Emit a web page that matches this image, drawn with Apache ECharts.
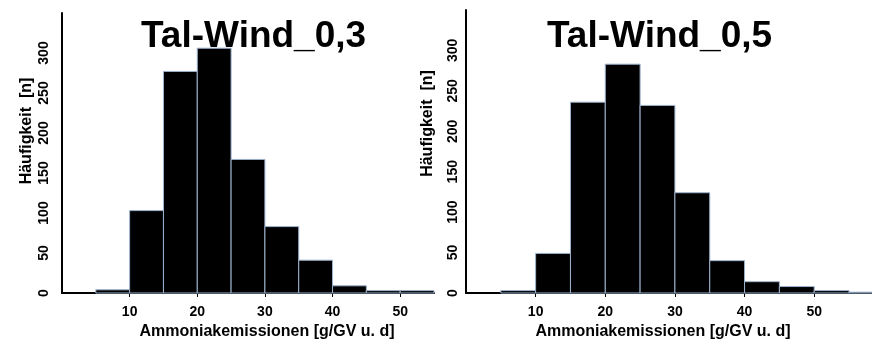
<!DOCTYPE html>
<html>
<head>
<meta charset="utf-8">
<script src="https://cdn.jsdelivr.net/npm/echarts@6/dist/echarts.min.js"></script>
<style>
  html, body { margin: 0; padding: 0; background: #fff; }
  #chart { width: 872px; height: 345px; }
</style>
</head>
<body>
<div id="chart"></div>
<script>
// bin starts (width 5) and counts
var binWidth = 5;
var bins03 = [5, 10, 15, 20, 25, 30, 35, 40, 45, 50];
var counts03 = [4, 103, 277, 306, 167, 83, 41, 9, 3, 3];
var bins05 = [5, 10, 15, 20, 25, 30, 35, 40, 45, 50, 55];
var counts05 = [3, 49, 236, 283, 232, 124, 40, 14, 8, 3, 1];
var xTicks = [10, 20, 30, 40, 50];
var yTicks = [0, 50, 100, 150, 200, 250, 300];
var titles = ['Tal-Wind_0,3', 'Tal-Wind_0,5'];
var xName = 'Ammoniakemissionen [g/GV u. d]';
var yName = 'Häufigkeit  [n]';

var font = 'Liberation Sans, Arial, sans-serif';

function histData(bins, counts) {
    return bins.map(function (b, i) { return [b, b + binWidth, counts[i]]; });
}

function renderBin(params, api) {
    var p0 = api.coord([api.value(0), api.value(2)]);
    var p1 = api.coord([api.value(1), 0]);
    return {
        type: 'rect',
        shape: { x: p0[0], y: p0[1], width: p1[0] - p0[0], height: p1[1] - p0[1] },
        style: { fill: '#000', stroke: '#9db3cf', lineWidth: 1 }
    };
}

function xAxisOpt(idx, max, pad) {
    return {
        type: 'value',
        gridIndex: idx,
        min: 0,
        max: max,
        interval: 10,
        name: xName,
        nameLocation: 'middle',
        nameGap: 31,
        nameTextStyle: { fontFamily: font, fontWeight: 'bold', fontSize: 16, color: '#000', padding: pad },
        axisLine: { lineStyle: { color: '#000', width: 2 } },
        axisTick: { length: 4, customValues: xTicks, lineStyle: { color: '#000', width: 1 } },
        splitLine: { show: false },
        axisLabel: {
            margin: 12,
            customValues: xTicks,
            fontFamily: font, fontWeight: 'bold', fontSize: 14, color: '#000'
        }
    };
}

function yAxisOpt(idx, labelMargin, gap, shift) {
    return {
        type: 'value',
        gridIndex: idx,
        min: 0,
        max: 350,
        interval: 50,
        name: yName,
        nameLocation: 'middle',
        nameGap: gap,
        nameRotate: 90,
        nameTextStyle: { fontFamily: font, fontWeight: 'bold', fontSize: 16, color: '#000', padding: [0, 0, 0, shift] },
        axisLine: { show: true, lineStyle: { color: '#000', width: 2 } },
        axisTick: { show: false },
        splitLine: { show: false },
        axisLabel: {
            rotate: 90,
            margin: labelMargin,
            customValues: yTicks,
            fontFamily: font, fontWeight: 'bold', fontSize: 14, color: '#000'
        }
    };
}

var chart = echarts.init(document.getElementById('chart'));
var option = {
    animation: false,
    title: [
        { text: titles[0], left: 141, top: 18, padding: 0,
          textStyle: { fontFamily: font, fontWeight: 'bold', fontSize: 37, color: '#000' } },
        { text: titles[1], left: 547, top: 18, padding: 0,
          textStyle: { fontFamily: font, fontWeight: 'bold', fontSize: 37, color: '#000' } }
    ],
    grid: [
        { left: 62, top: 13, width: 372, height: 280 },
        { left: 466, top: 10, width: 406, height: 283 }
    ],
    xAxis: [xAxisOpt(0, 55, [0, 0, 0, 38]), xAxisOpt(1, 58.3, [0, 12, 0, 0])],
    yAxis: [yAxisOpt(0, 11, 27, 44), yAxisOpt(1, 6, 30, 56)],
    series: [
        { type: 'custom', xAxisIndex: 0, yAxisIndex: 0, renderItem: renderBin,
          encode: { x: [0, 1], y: 2 }, data: histData(bins03, counts03) },
        { type: 'custom', xAxisIndex: 1, yAxisIndex: 1, renderItem: renderBin,
          encode: { x: [0, 1], y: 2 }, data: histData(bins05, counts05) }
    ]
};
chart.setOption(option);
</script>
</body>
</html>
